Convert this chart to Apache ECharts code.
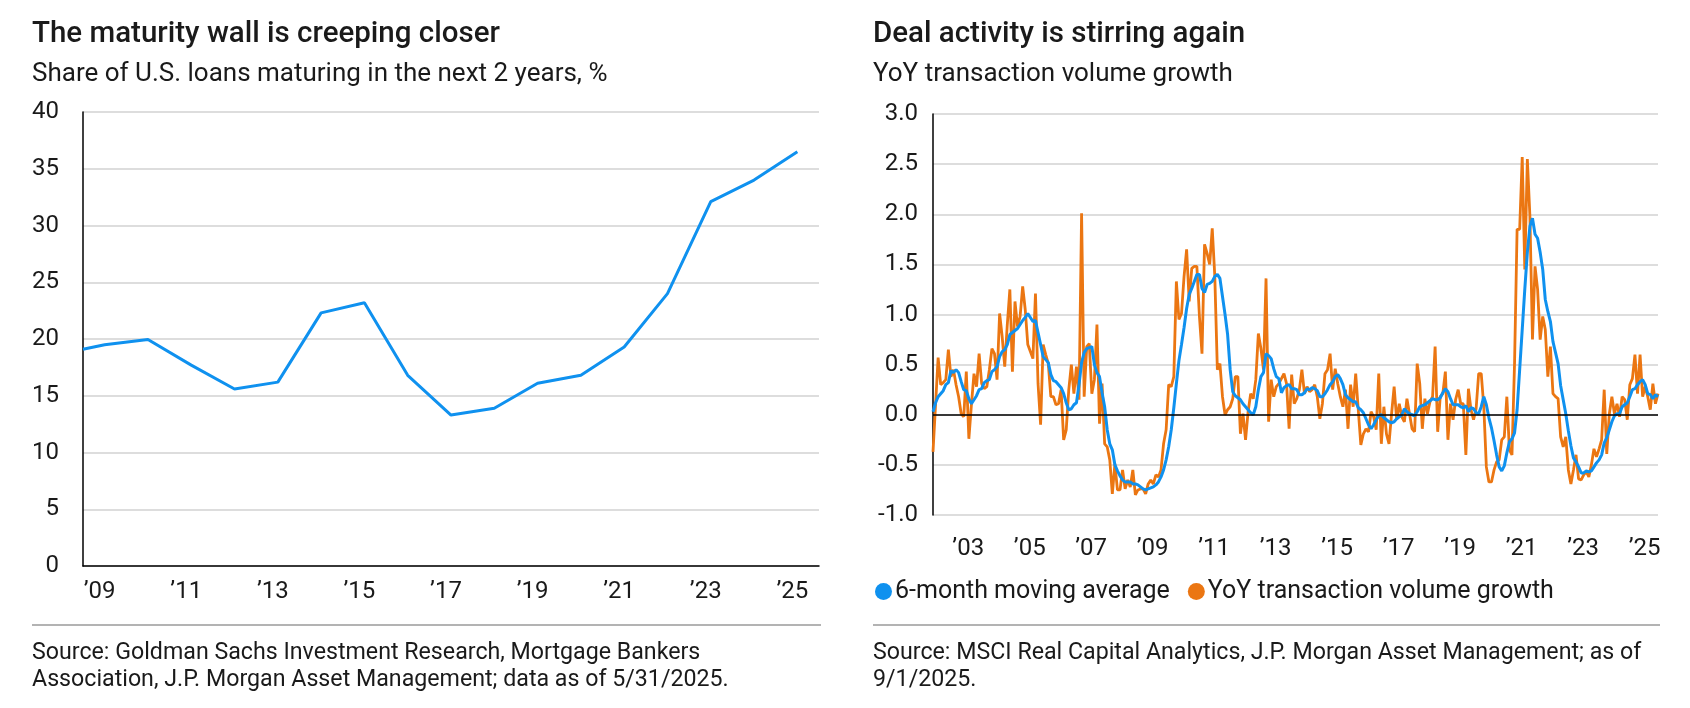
<!DOCTYPE html>
<html><head><meta charset="utf-8">
<script src="https://cdn.jsdelivr.net/npm/echarts@6/dist/echarts.min.js"></script>
<style>html,body{margin:0;padding:0;background:#fff}#c{width:1690px;height:708px}</style>
</head><body><div id="c"></div>
<script>
// ---------- Left chart data ----------
const maturityYears = [2008.5, 2009, 2010, 2011, 2012, 2013, 2014, 2015, 2016, 2017, 2018, 2019, 2020, 2021, 2022, 2023, 2024, 2025];
const maturityShare = [19.1, 19.5, 19.95, 17.7, 15.6, 16.2, 22.3, 23.2, 16.8, 13.3, 13.9, 16.1, 16.8, 19.3, 24.0, 32.1, 34.0, 36.5];
const maturityTickYears = [2009, 2011, 2013, 2015, 2017, 2019, 2021, 2023, 2025];

// ---------- Right chart data (monthly, Jan 2002 - Aug 2025) ----------
const dealStart = [2002, 1];
const dealMovingAvg = [
 0.03,0.12,0.18,0.21,0.24,0.30,0.32,0.44,0.42,0.45,0.42,0.33,
 0.25,0.24,0.16,0.11,0.15,0.19,0.25,0.26,0.32,0.34,0.35,0.43,
 0.45,0.48,0.58,0.63,0.65,0.70,0.80,0.82,0.84,0.86,0.90,0.94,
 0.97,1.01,0.97,0.93,0.94,0.82,0.70,0.58,0.55,0.52,0.40,0.34,
 0.33,0.30,0.27,0.21,0.12,0.05,0.06,0.10,0.12,0.30,0.52,0.62,
 0.66,0.67,0.68,0.50,0.42,0.38,0.22,0.08,-0.15,-0.29,-0.35,-0.50,
 -0.56,-0.61,-0.65,-0.67,-0.67,-0.67,-0.69,-0.69,-0.70,-0.72,-0.74,-0.75,
 -0.74,-0.73,-0.72,-0.70,-0.67,-0.62,-0.55,-0.45,-0.32,
 -0.15,0.07,0.31,0.54,0.70,0.87,1.06,1.20,1.26,1.33,1.40,1.40,
 1.26,1.22,1.30,1.31,1.33,1.38,1.40,1.36,1.18,1.00,0.80,0.45,
 0.23,0.19,0.17,0.15,0.11,0.08,0.05,0.02,0.00,0.08,0.25,0.38,
 0.42,0.61,0.59,0.56,0.46,0.38,0.36,0.22,0.27,0.29,0.30,0.26,0.26,
 0.25,0.20,0.20,0.22,0.26,0.25,0.27,0.26,0.24,0.18,0.18,0.21,
 0.25,0.30,0.33,0.38,0.40,0.36,0.30,0.20,0.17,0.15,0.13,0.13,
 0.07,0.05,0.02,-0.04,-0.10,-0.14,-0.10,-0.05,-0.01,0.00,-0.03,-0.05,
 -0.07,-0.08,-0.07,-0.04,-0.02,0.00,0.06,0.03,0.01,0.00,
 -0.01,0.03,0.08,0.09,0.10,0.12,0.14,0.16,0.15,0.15,0.17,0.22,
 0.26,0.23,0.16,0.10,0.10,0.10,0.08,0.07,0.09,0.03,0.07,0.06,
 0.02,0.01,0.08,0.18,0.10,-0.03,-0.13,-0.26,-0.40,-0.52,-0.56,-0.51,
 -0.38,-0.27,-0.24,-0.18,0.05,0.45,0.85,1.25,1.62,
 1.88,1.96,1.80,1.76,1.62,1.45,1.15,1.03,0.93,0.73,0.62,0.51,
 0.29,0.15,0.01,-0.16,-0.31,-0.43,-0.47,-0.52,-0.58,-0.58,-0.56,-0.57,
 -0.56,-0.52,-0.48,-0.45,-0.40,-0.28,-0.23,-0.15,-0.07,-0.01,0.01,0.01,
 0.08,0.10,0.12,0.18,0.25,0.26,0.30,0.33,0.35,0.30,0.21,0.20,
 0.16,0.20,0.18
];
const dealYoY = [
 -0.37,0.10,0.57,0.30,0.32,0.35,0.65,0.38,0.45,0.30,0.18,0.01,
 -0.02,0.43,-0.24,0.10,0.41,0.28,0.61,0.31,0.26,0.28,0.45,0.66,
 0.61,0.35,1.01,0.78,0.48,0.90,1.25,0.43,1.13,0.88,0.98,1.28,
 1.05,0.70,0.63,0.56,1.21,0.31,-0.10,0.70,0.60,0.51,0.18,0.18,
 0.10,0.11,0.25,-0.25,-0.15,0.25,0.50,0.21,0.48,0.15,2.01,0.18,
 0.68,0.71,0.21,0.35,0.90,-0.09,0.31,-0.29,-0.32,-0.45,-0.79,-0.49,
 -0.75,-0.75,-0.55,-0.74,-0.65,-0.72,-0.55,-0.80,-0.75,-0.74,-0.74,-0.79,
 -0.69,-0.65,-0.69,-0.60,-0.62,-0.55,-0.29,-0.15,0.30,0.28,0.38,1.33,
 0.95,1.01,1.38,1.65,1.13,1.46,1.48,1.48,0.98,0.61,1.70,1.61,
 1.50,1.86,1.38,0.45,0.51,0.18,0.00,0.05,0.08,0.16,0.38,0.38,
 -0.19,0.01,-0.25,0.03,0.21,0.16,0.35,0.81,0.66,0.45,1.36,-0.07,
 0.35,0.18,0.28,0.31,0.36,0.41,0.31,
 -0.14,0.40,0.11,0.16,0.25,0.45,0.21,0.28,0.23,0.25,0.30,0.18,
 -0.04,0.11,0.41,0.45,0.61,0.25,0.46,0.31,0.18,0.08,0.25,-0.14,
 0.30,0.08,0.41,0.05,-0.30,-0.19,-0.14,-0.17,0.03,-0.02,-0.15,0.41,
 -0.29,0.08,-0.19,-0.29,0.01,0.28,-0.05,0.11,-0.02,-0.07,0.16,0.01,-0.14,
 -0.17,0.51,0.31,-0.14,0.16,0.01,0.13,0.18,0.68,-0.17,0.18,0.21,
 0.43,-0.25,0.11,-0.05,0.15,0.25,0.11,0.11,-0.40,0.26,0.05,-0.05,
 0.06,0.41,0.41,0.08,-0.52,-0.67,-0.67,-0.55,-0.47,-0.45,-0.25,-0.22,
 0.18,-0.35,-0.40,0.51,
 1.85,1.85,2.57,1.45,2.55,1.98,0.75,1.48,1.25,0.75,0.98,0.85,
 0.38,0.68,0.21,0.18,0.16,-0.22,-0.32,-0.22,-0.55,-0.69,-0.55,-0.40,
 -0.64,-0.65,-0.60,-0.57,-0.62,-0.50,-0.34,-0.42,-0.34,-0.25,0.25,-0.39,
 0.01,0.18,0.01,0.11,-0.02,0.18,0.15,-0.05,0.30,0.36,0.60,0.21,
 0.60,0.18,0.28,0.18,0.05,0.31,0.11,0.21
];
const dealTickYears = [2003, 2005, 2007, 2009, 2011, 2013, 2015, 2017, 2019, 2021, 2023, 2025];

// Month category labels
const dealMonths = dealYoY.map((_, i) => {
  const t = (dealStart[0] * 12 + dealStart[1] - 1) + i;
  const y = Math.floor(t / 12), m = t % 12 + 1;
  return y + '-' + (m < 10 ? '0' + m : m);
});

// ---------- Styles ----------
const FONT = 'Roboto, "Liberation Sans", sans-serif';
const BLUE = '#0f91ef';
const ORANGE = '#eb7612';
const GRID = '#d2d2d2';
const TXT = '#1a1a1a';
const TICK_SIZE = 24;

const chart = echarts.init(document.getElementById('c'), null, {renderer: 'canvas'});

function txt(x, y, text, size, weight) {
  return {
    type: 'text', x: x, y: y, silent: true,
    style: {text: text, fill: TXT, font: (weight || 400) + ' ' + size + 'px ' + FONT, textVerticalAlign: 'middle', textAlign: 'left'}
  };
}

const option = {
  backgroundColor: '#fff',
  animation: false,
  textStyle: {fontFamily: FONT},
  grid: [
    {left: 83, right: 1690 - 819, top: 112, bottom: 708 - 566, containLabel: false},
    {left: 933, right: 1690 - 1658, top: 114, bottom: 708 - 515, containLabel: false}
  ],
  xAxis: [
    {
      gridIndex: 0, type: 'value', min: 2008.5, max: 2025.5, interval: 0.5,
      axisLine: {show: true, onZero: false, lineStyle: {color: '#000', width: 1.5}},
      axisTick: {show: false}, splitLine: {show: false},
      axisLabel: {
        color: TXT, fontSize: TICK_SIZE, fontFamily: FONT, margin: 14, padding: [0, 10, 0, 0],
        showMinLabel: true, showMaxLabel: true,
        formatter: v => maturityTickYears.indexOf(v) >= 0 ? '\u2019' + String(v).slice(2) : ''
      }
    },
    {
      gridIndex: 1, type: 'category', data: dealMonths, boundaryGap: false,
      axisLine: {show: false, onZero: false}, axisTick: {show: false}, splitLine: {show: false},
      axisLabel: {
        color: TXT, fontSize: TICK_SIZE, fontFamily: FONT, margin: 22, padding: [0, 0, 0, 9],
        interval: (idx, val) => val.slice(5) === '01' && dealTickYears.indexOf(+val.slice(0, 4)) >= 0,
        formatter: val => '\u2019' + val.slice(2, 4)
      }
    }
  ],
  yAxis: [
    {
      gridIndex: 0, type: 'value', min: 0, max: 40, interval: 5,
      axisLine: {show: true, lineStyle: {color: '#000', width: 1.5}},
      axisTick: {show: false},
      splitLine: {show: true, lineStyle: {color: GRID, width: 1.5}},
      axisLabel: {color: TXT, fontSize: TICK_SIZE, fontFamily: FONT, margin: 24}
    },
    {
      gridIndex: 1, type: 'value', min: -1, max: 3, interval: 0.5,
      axisLine: {show: true, lineStyle: {color: '#000', width: 1.5}},
      axisTick: {show: false},
      splitLine: {show: true, lineStyle: {color: GRID, width: 1.5}},
      axisLabel: {color: TXT, fontSize: TICK_SIZE, fontFamily: FONT, margin: 15, formatter: v => v.toFixed(1)}
    }
  ],
  legend: {
    left: 870, top: 574, icon: 'circle', itemWidth: 17, itemHeight: 17, itemGap: 18,
    textStyle: {color: TXT, fontSize: 25, fontFamily: FONT, padding: [0, 0, 0, -2]},
    data: ['6-month moving average', 'YoY transaction volume growth']
  },
  series: [
    {
      name: 'Maturing share', type: 'line', xAxisIndex: 0, yAxisIndex: 0,
      data: maturityYears.map((y, i) => [y, maturityShare[i]]),
      showSymbol: false, symbol: 'none', lineStyle: {color: BLUE, width: 3}, itemStyle: {color: BLUE}, z: 3
    },
    {
      name: '6-month moving average', type: 'line', xAxisIndex: 1, yAxisIndex: 1,
      data: dealMovingAvg, showSymbol: false, symbol: 'none',
      lineStyle: {color: BLUE, width: 3}, itemStyle: {color: BLUE}, z: 4
    },
    {
      name: 'YoY transaction volume growth', type: 'line', xAxisIndex: 1, yAxisIndex: 1,
      data: dealYoY, showSymbol: false, symbol: 'none',
      lineStyle: {color: ORANGE, width: 2.8}, itemStyle: {color: ORANGE}, z: 3,
      markLine: {
        silent: true, symbol: 'none', label: {show: false},
        lineStyle: {color: '#000', width: 1.5, type: 'solid'},
        data: [{yAxis: 0}]
      }
    }
  ],
  graphic: [
    txt(32, 35, 'The maturity wall is creeping closer', 29.5, 500),
    txt(32, 74, 'Share of U.S. loans maturing in the next 2 years, %', 26, 400),
    txt(873, 35, 'Deal activity is stirring again', 29.5, 500),
    txt(873, 74, 'YoY transaction volume growth', 26, 400),
    {type: 'line', silent: true, shape: {x1: 32, y1: 625, x2: 821, y2: 625}, style: {stroke: '#9a9a9a', lineWidth: 1.5}},
    {type: 'line', silent: true, shape: {x1: 873, y1: 625, x2: 1660, y2: 625}, style: {stroke: '#9a9a9a', lineWidth: 1.5}},
    txt(32, 653, 'Source: Goldman Sachs Investment Research, Mortgage Bankers', 23.2, 400),
    txt(32, 680, 'Association, J.P. Morgan Asset Management; data as of 5/31/2025.', 23.2, 400),
    txt(873, 653, 'Source: MSCI Real Capital Analytics, J.P. Morgan Asset Management; as of', 23.2, 400),
    txt(873, 680, '9/1/2025.', 23.2, 400)
  ]
};
chart.setOption(option);
</script>
</body></html>
